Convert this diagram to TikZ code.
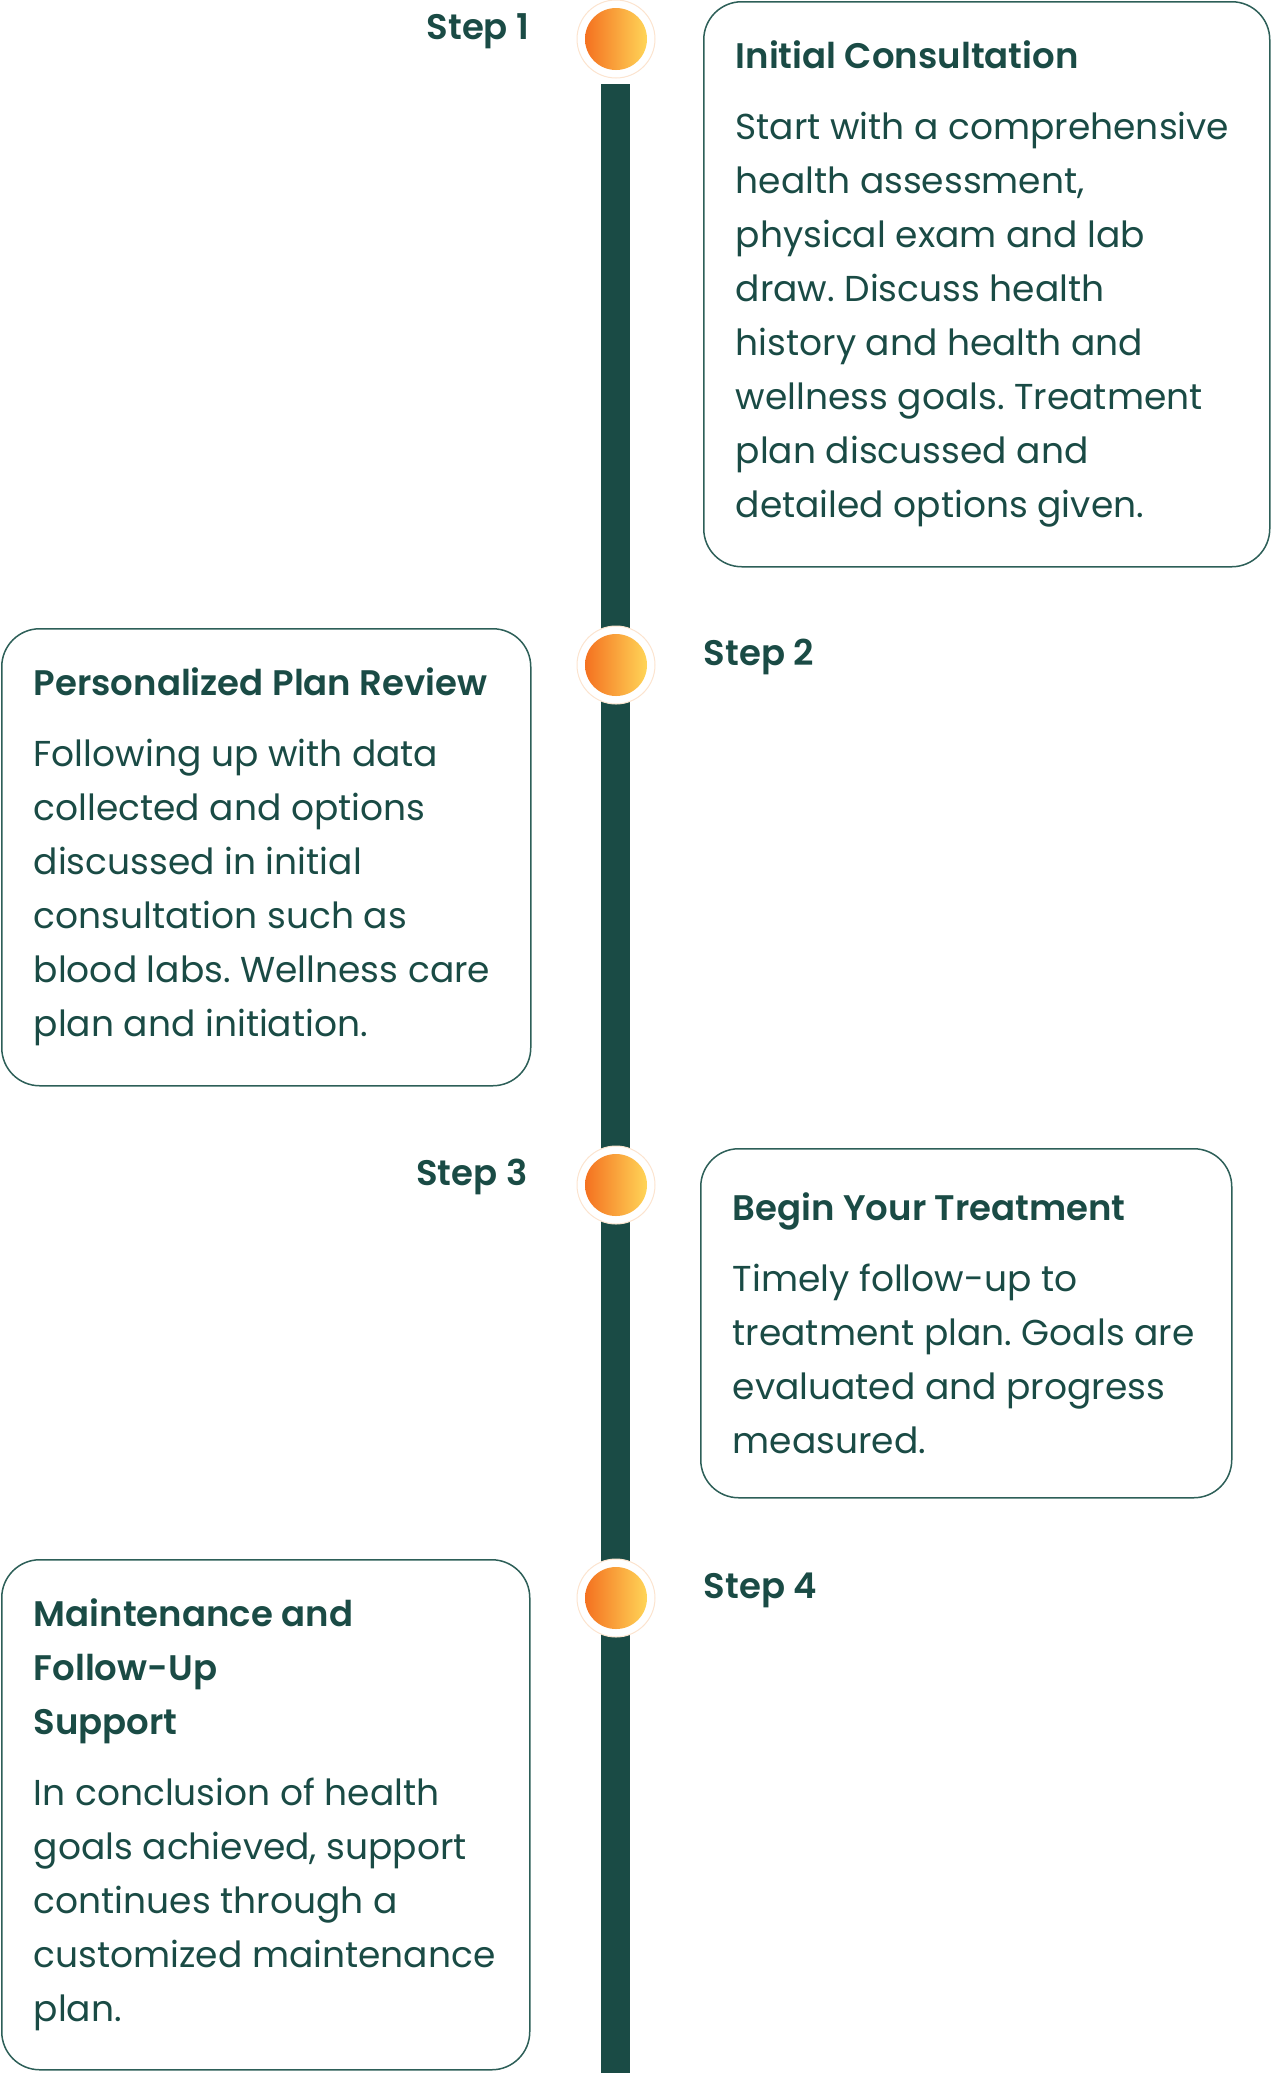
\documentclass[tikz,border=0pt]{standalone}
\usepackage{fontspec}
\setmainfont{Poppins}[BoldFont={Poppins SemiBold}]
\usetikzlibrary{positioning}

\definecolor{pine}{HTML}{1A4B45}
\definecolor{pineline}{HTML}{2D5F58}
\definecolor{flame}{HTML}{F47120}
\definecolor{sun}{HTML}{FFD558}
\definecolor{peach}{HTML}{FCE4CF}

\newcommand{\cardhead}{\fontsize{35.5}{54}\selectfont\bfseries}
\newcommand{\cardbody}{\fontsize{36}{54}\selectfont\mdseries\frenchspacing}

\tikzset{
  card/.style={draw=pineline, line width=1.5pt, rounded corners=38pt, anchor=north west,
    align=flush left, text=pine, inner xsep=32pt, inner ysep=0pt, font=\cardbody},
  steplabel/.style={text=pine, font=\fontsize{35.5}{42}\selectfont\bfseries, inner sep=0pt},
  ring/.style={circle, draw=peach, line width=1pt, fill=white, minimum size=78pt, inner sep=0pt},
  dot/.style={circle, minimum size=62pt, inner sep=0pt, left color=flame, right color=sun}
}

\begin{document}
\begin{tikzpicture}[x=1pt, y=-1pt]

  \useasboundingbox (0,0) rectangle (1270,2073);

  % Timeline bar
  \coordinate (bartop) at (615,84);
  \coordinate (barend) at (615,2073);
  \draw[pine, line width=29pt] (bartop) -- (barend);

  % Markers
  \node[ring] (r1) at (616,39) {};
  \node[dot] (c1) at (r1) {};
  \node[ring] (r2) at (616,665) {};
  \node[dot] (c2) at (r2) {};
  \node[ring] (r3) at (616,1185) {};
  \node[dot] (c3) at (r3) {};
  \node[ring] (r4) at (616,1598) {};
  \node[dot] (c4) at (r4) {};

  % Step labels
  \node[steplabel, left=47pt of r1.west, anchor=base east] (s1) {Step 1};
  \node[steplabel, right=48pt of r2.east, anchor=base west] (s2) {Step 2};
  \node[steplabel, left=49pt of r3.west, anchor=base east] (s3) {Step 3};
  \node[steplabel, right=48pt of r4.east, anchor=base west] (s4) {Step 4};

  % Step 1
  \node[card, text width=502pt, minimum height=565pt] (b1) at (703,1) {%
    {\cardhead Initial Consultation}\\[17pt]
    Start with a comprehensive\\
    health assessment,\\
    physical exam and lab\\
    draw. Discuss health\\
    history and health and\\
    wellness goals. Treatment\\
    plan discussed and\\
    detailed options given.};

  % Step 2
  \node[card, text width=465pt, minimum height=457pt] (b2) at (1,628) {%
    {\cardhead Personalized Plan Review}\\[17pt]
    Following up with data\\
    collected and options\\
    discussed in initial\\
    consultation such as\\
    blood labs. Wellness care\\
    plan and initiation.};

  % Step 3
  \node[card, text width=467pt, minimum height=349pt] (b3) at (700,1148) {%
    {\cardhead Begin Your Treatment}\\[17pt]
    Timely follow-up to\\
    treatment plan. Goals are\\
    evaluated and progress\\
    measured.};

  % Step 4
  \node[card, text width=464pt, minimum height=510pt] (b4) at (1,1559) {%
    {\cardhead Maintenance and\\
    Follow-Up\\
    Support}\\[17pt]
    In conclusion of health\\
    goals achieved, support\\
    continues through a\\
    customized maintenance\\
    plan.};

\end{tikzpicture}
\end{document}
